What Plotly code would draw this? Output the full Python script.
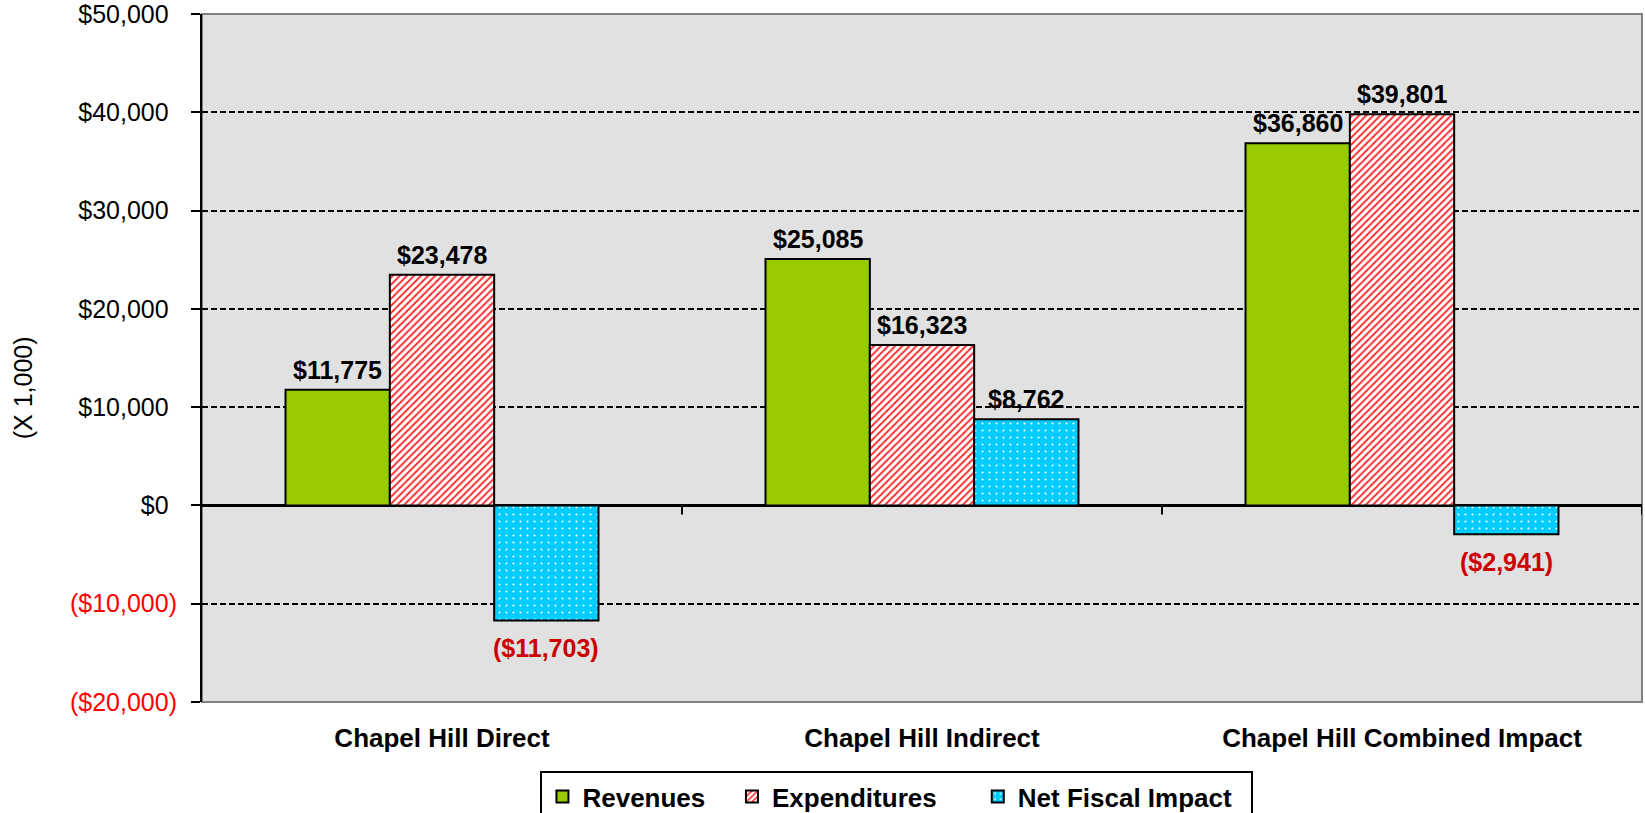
import plotly.graph_objects as go

# Fiscal impact values, in thousands of dollars
categories = ["Chapel Hill Direct", "Chapel Hill Indirect", "Chapel Hill Combined Impact"]
revenues = [11775, 25085, 36860]
expenditures = [23478, 16323, 39801]
net_fiscal_impact = [-11703, 8762, -2941]

y_ticks = [-20000, -10000, 0, 10000, 20000, 30000, 40000, 50000]
y_title = "(X 1,000)"

FONT = "Liberation Sans, Arial, sans-serif"
NEG_TICK = "#FF0000"
NEG_LABEL = "#CC0000"

W, H = 1645, 813
MARGIN = dict(l=202, r=3, t=14, b=111)
BARGAP = 0.348


def money(v):
    s = "${:,.0f}".format(abs(v))
    return "(" + s + ")" if v < 0 else s


def tick_text(v):
    if v < 0:
        return '<span style="color:%s">%s</span>' % (NEG_TICK, money(v))
    # pad positives so digits line up with the closing parenthesis
    return money(v) + '<span style="color:rgba(0,0,0,0)">)</span>'


series = [
    ("Revenues", revenues, "#99CC00", None, 3),
    ("Expenditures", expenditures, "#FFFFFF",
     dict(shape="/", fgcolor="#FF2A2A", bgcolor="#FFFFFF",
          size=5, solidity=0.38, fillmode="replace"), 5),
    ("Net Fiscal Impact", net_fiscal_impact, "#00CCFF",
     dict(shape=".", fgcolor="#FFFFFF", bgcolor="#00CCFF",
          size=7, solidity=0.07, fillmode="replace"), 2),
]

fig = go.Figure()
for name, values, color, pattern, pad in series:
    fig.add_trace(go.Bar(
        name=name + "\u00a0" * pad,
        x=categories,
        y=values,
        marker=dict(color=color, line=dict(color="black", width=2), pattern=pattern),
        hovertemplate=name + ": %{y:$,.0f}<extra></extra>",
    ))

# value labels above positive bars and below negative ones
plot_w = W - MARGIN["l"] - MARGIN["r"]
bar_px = plot_w / len(categories) * (1 - BARGAP) / len(series)
for ti, (name, values, _, _, _) in enumerate(series):
    offset = (ti - (len(series) - 1) / 2) * bar_px
    for cat, v in zip(categories, values):
        fig.add_annotation(
            x=cat, y=v, xshift=offset,
            yshift=4 if v >= 0 else -12,
            yanchor="bottom" if v >= 0 else "top",
            text=money(v), showarrow=False,
            font=dict(family=FONT, size=25, weight="bold",
                      color="black" if v >= 0 else NEG_LABEL),
        )

# grey frame round the plotting area
fig.add_shape(type="rect", xref="paper", yref="paper", x0=0, x1=1, y0=0, y1=1,
              line=dict(color="#808080", width=2), layer="below")

# category-axis tick marks on the zero line, between categories
for i in range(len(categories)):
    fig.add_shape(type="line", xref="x", yref="y", x0=i + 0.5, x1=i + 0.5,
                  ysizemode="pixel", yanchor=0, y0=0, y1=-9,
                  line=dict(color="black", width=2), layer="above")

fig.add_annotation(text=y_title, xref="paper", yref="paper",
                   x=-0.1243, y=0.456, xanchor="center", yanchor="middle",
                   textangle=-90, showarrow=False,
                   font=dict(family=FONT, size=25, color="black"))

fig.update_layout(
    width=W, height=H,
    margin=dict(**MARGIN, autoexpand=False),
    paper_bgcolor="white",
    plot_bgcolor="#E1E1E1",
    barmode="group",
    bargap=BARGAP,
    bargroupgap=0,
    font=dict(family=FONT, size=25, color="black"),
    showlegend=True,
    legend=dict(
        orientation="h", xanchor="center", yanchor="top",
        x=0.4826, y=-0.1003,
        bgcolor="white", bordercolor="black", borderwidth=2,
        font=dict(family=FONT, size=26, weight="bold", color="black"),
        traceorder="normal",
    ),
    xaxis=dict(
        type="category",
        range=[-0.5, len(categories) - 0.5],
        showline=False, showgrid=False, ticks="",
        tickfont=dict(family=FONT, size=26, weight="bold", color="black"),
        ticklabelstandoff=18,
    ),
    yaxis=dict(
        range=[y_ticks[0], y_ticks[-1]],
        tickvals=y_ticks,
        ticktext=[tick_text(v) for v in y_ticks],
        tickfont=dict(family=FONT, size=25, color="black"),
        ticklabeloverflow="allow",
        showline=True, linecolor="black", linewidth=2,
        ticks="outside", ticklen=9, tickwidth=2, tickcolor="black",
        ticklabelstandoff=9,
        showgrid=True, gridcolor="black", gridwidth=1.5, griddash="6px,3px",
        zeroline=True, zerolinecolor="black", zerolinewidth=3,
    ),
)

fig.write_html("out.html")
